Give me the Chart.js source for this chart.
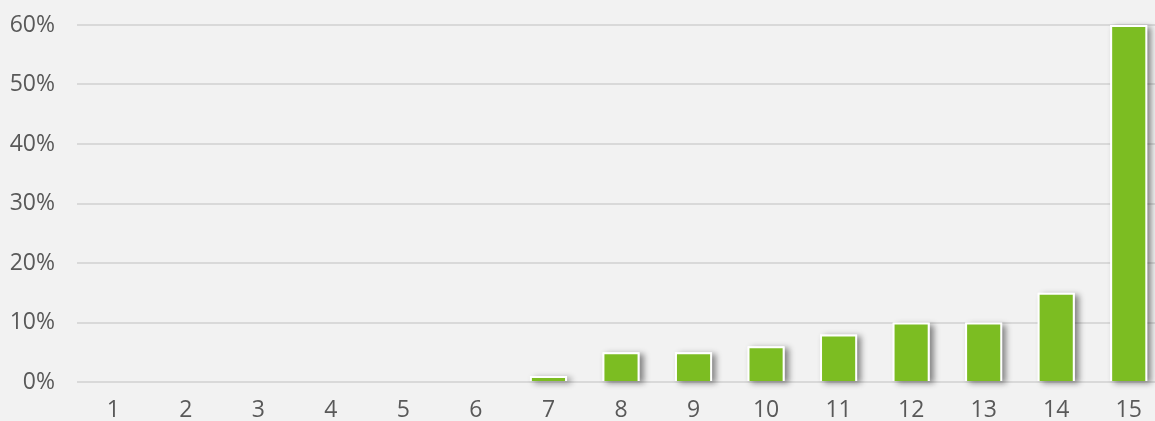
<!DOCTYPE html>
<html>
<head>
<meta charset="utf-8">
<script src="https://cdn.jsdelivr.net/npm/chart.js@4"></script>
<style>
  html, body { margin: 0; padding: 0; background: #f2f2f2; overflow: hidden; }
  canvas { display: block; }
</style>
</head>
<body>
<canvas id="myChart" width="1165" height="421"></canvas>
<script>
const ctx = document.getElementById('myChart');

// categories and values (percent)
const labels = ['1', '2', '3', '4', '5', '6', '7', '8', '9', '10', '11', '12', '13', '14', '15'];
const values = [0, 0, 0, 0, 0, 0, 1, 5, 5, 6, 8, 10, 10, 15, 60];
const yTicks = [0, 10, 20, 30, 40, 50, 60];

// soft shadow behind each bar, drawn from the bar elements themselves
const barShadow = {
    id: 'barShadow',
    beforeDatasetsDraw(chart) {
        const c = chart.ctx;
        const meta = chart.getDatasetMeta(0);
        c.save();
        c.shadowColor = 'rgba(0, 0, 0, 0.45)';
        c.shadowBlur = 6;
        c.shadowOffsetX = 4;
        c.shadowOffsetY = 2;
        c.fillStyle = '#ffffff';
        meta.data.forEach(bar => {
            const { x, y, base, width } = bar.getProps(['x', 'y', 'base', 'width'], true);
            if (Math.abs(base - y) < 0.5) return;
            c.fillRect(x - width / 2, Math.min(y, base), width, Math.abs(base - y));
        });
        c.restore();
    }
};

const myChart = new Chart(ctx, {
    type: 'bar',
    data: {
        labels: labels,
        datasets: [{
            data: values,
            backgroundColor: '#7cbd22',
            borderColor: '#ffffff',
            borderWidth: 2,
            categoryPercentage: 0.8,
            barPercentage: 0.64
        }]
    },
    options: {
        responsive: false,
        animation: false,
        layout: { padding: { top: 25, right: 0, bottom: 0, left: 0 } },
        plugins: {
            legend: { display: false },
            tooltip: { enabled: false }
        },
        scales: {
            x: {
                grid: { display: false, drawTicks: false },
                border: { display: false },
                ticks: {
                    color: '#595959',
                    font: { family: 'Open Sans', size: 23 },
                    padding: 15,
                    maxRotation: 0
                },
                afterFit(scale) { scale.height = 39; }
            },
            y: {
                min: 0,
                max: 60,
                afterBuildTicks(scale) {
                    scale.ticks = yTicks.map(v => ({ value: v }));
                },
                grid: { color: '#d9d9d9', lineWidth: 2, drawTicks: false },
                border: { display: false },
                ticks: {
                    color: '#595959',
                    font: { family: 'Open Sans', size: 23 },
                    padding: 22,
                    callback: v => v + '%'
                },
                afterFit(scale) {
                    scale.width = 77;
                    scale.paddingTop = 0;
                    scale.paddingBottom = 0;
                }
            }
        }
    },
    plugins: [barShadow]
});
</script>
</body>
</html>
